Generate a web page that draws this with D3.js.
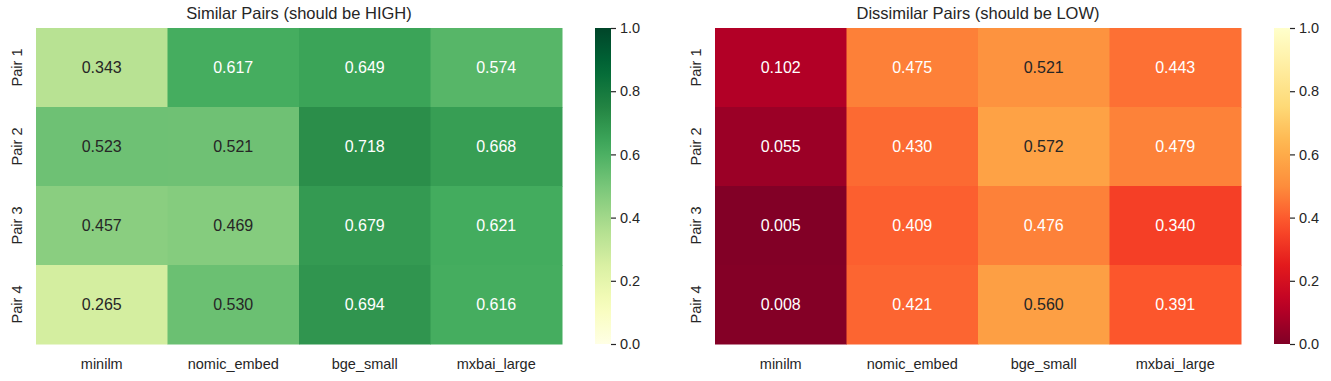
<!DOCTYPE html>
<meta charset="utf-8">
<script src="https://cdn.jsdelivr.net/npm/d3@7"></script>
<style>
  body { margin: 0; background: #fff; }
  text { font-family: "Liberation Sans", Arial, sans-serif; fill: #262626; }
</style>
<body>
<div id="chart"></div>
<script>
// data
var models = ["minilm", "nomic_embed", "bge_small", "mxbai_large"];
var pairs = ["Pair 1", "Pair 2", "Pair 3", "Pair 4"];
var similarVals = [
  [0.343, 0.617, 0.649, 0.574],
  [0.523, 0.521, 0.718, 0.668],
  [0.457, 0.469, 0.679, 0.621],
  [0.265, 0.530, 0.694, 0.616]
];
var dissimilarVals = [
  [0.102, 0.475, 0.521, 0.443],
  [0.055, 0.430, 0.572, 0.479],
  [0.005, 0.409, 0.476, 0.340],
  [0.008, 0.421, 0.560, 0.391]
];
var cbarTicks = [0, 0.2, 0.4, 0.6, 0.8, 1.0];

var width = 1331, height = 381;
var svg = d3.select("#chart").append("svg")
    .attr("width", width).attr("height", height);

var defs = svg.append("defs");

// matplotlib-style linear colormaps from the 9-class brewer lists
function brewerScale(colors) {
  return d3.scaleLinear()
    .domain(d3.range(colors.length).map(function(i) { return i / (colors.length - 1); }))
    .range(colors)
    .interpolate(d3.interpolateRgb)
    .clamp(true);
}
var ylgn = brewerScale(d3.schemeYlGn[9]);
var ylorrdR = brewerScale(d3.schemeYlOrRd[9].slice().reverse());

function lum(c) {
  var rgb = d3.rgb(c);
  var f = function(v) { v = v / 255; return v <= 0.03928 ? v / 12.92 : Math.pow((v + 0.055) / 1.055, 2.4); };
  return 0.2126 * f(rgb.r) + 0.7152 * f(rgb.g) + 0.0722 * f(rgb.b);
}

function drawPanel(opt) {
  var g = svg.append("g");
  var x = d3.scaleBand().domain(models).range([opt.x0, opt.x1]);
  var y = d3.scaleBand().domain(pairs).range([28, 344]);

  g.append("text")
    .attr("x", (opt.x0 + opt.x1) / 2).attr("y", 19)
    .attr("text-anchor", "middle").style("font-size", "16.5px")
    .text(opt.title);

  var cells = [];
  opt.values.forEach(function(row, i) {
    row.forEach(function(v, j) { cells.push({ r: pairs[i], c: models[j], v: v }); });
  });

  g.selectAll("rect.cell").data(cells).enter().append("rect")
    .attr("class", "cell")
    .attr("x", function(d) { return x(d.c); })
    .attr("y", function(d) { return y(d.r); })
    .attr("width", x.bandwidth() + 0.5)
    .attr("height", y.bandwidth() + 0.5)
    .attr("fill", function(d) { return opt.cmap(d.v); });

  g.selectAll("text.ann").data(cells).enter().append("text")
    .attr("class", "ann")
    .attr("x", function(d) { return x(d.c) + x.bandwidth() / 2; })
    .attr("y", function(d) { return y(d.r) + y.bandwidth() / 2; })
    .attr("dy", "0.35em")
    .attr("text-anchor", "middle")
    .style("font-size", "16px")
    .style("fill", function(d) { return lum(opt.cmap(d.v)) > 0.408 ? "#262626" : "#ffffff"; })
    .text(function(d) { return d.v.toFixed(3); });

  // x labels
  g.selectAll("text.xl").data(models).enter().append("text")
    .attr("x", function(d) { return x(d) + x.bandwidth() / 2; })
    .attr("y", 369)
    .attr("text-anchor", "middle").style("font-size", "14.5px")
    .text(function(d) { return d; });

  // y labels
  g.selectAll("text.yl").data(pairs).enter().append("text")
    .attr("transform", function(d) {
      return "translate(" + (opt.x0 - 14) + "," + (y(d) + y.bandwidth() / 2) + ") rotate(-90)";
    })
    .attr("text-anchor", "middle").style("font-size", "14.5px")
    .text(function(d) { return d; });

  // colorbar
  var cbY = d3.scaleLinear().domain([0, 1]).range([344, 28]);
  var gid = "grad" + opt.id;
  var grad = defs.append("linearGradient").attr("id", gid)
    .attr("x1", 0).attr("y1", 1).attr("x2", 0).attr("y2", 0);
  d3.range(0, 1.0001, 0.05).forEach(function(t) {
    grad.append("stop").attr("offset", t).attr("stop-color", opt.cmap(t));
  });
  g.append("rect")
    .attr("x", opt.cbx).attr("y", 28)
    .attr("width", 16).attr("height", 316)
    .attr("fill", "url(#" + gid + ")");

  var axis = d3.axisRight(cbY).tickValues(cbarTicks)
    .tickFormat(d3.format(".1f")).tickSize(5).tickPadding(4);
  var ax = g.append("g").attr("transform", "translate(" + (opt.cbx + 16) + ",0)").call(axis);
  ax.select(".domain").remove();
  ax.selectAll(".tick line").attr("stroke", "#262626").attr("stroke-width", 1.2);
  ax.selectAll(".tick text").style("font-size", "14.5px").attr("fill", "#262626")
    .style("font-family", "'Liberation Sans', Arial, sans-serif");
}

drawPanel({ id: 1, x0: 36, x1: 562, cbx: 595, values: similarVals, cmap: ylgn,
  title: "Similar Pairs (should be HIGH)" });
drawPanel({ id: 2, x0: 715, x1: 1241, cbx: 1274, values: dissimilarVals, cmap: ylorrdR,
  title: "Dissimilar Pairs (should be LOW)" });
</script>
</body>
